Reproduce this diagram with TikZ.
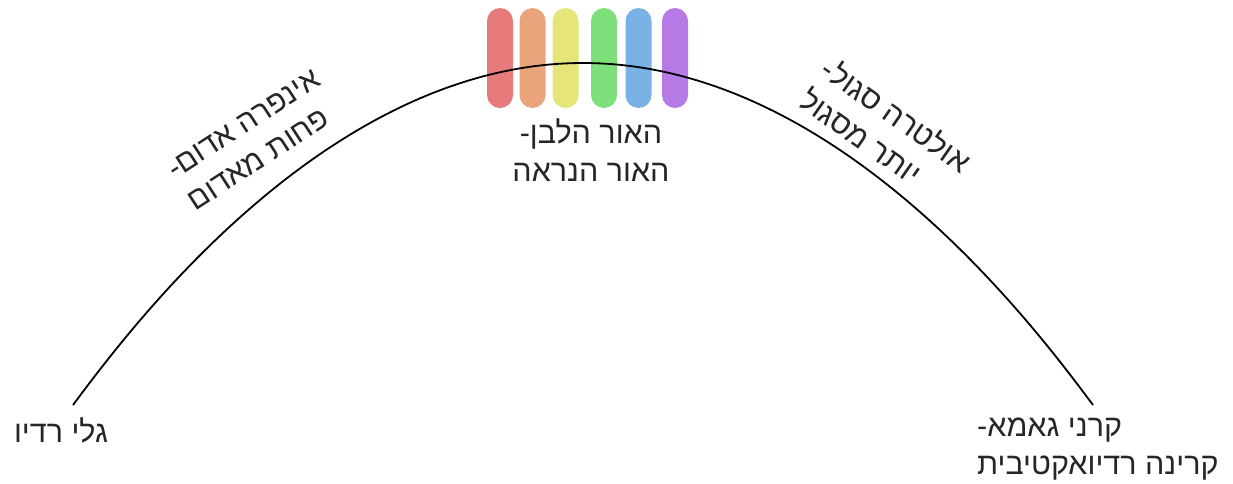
\documentclass[tikz,border=0pt]{standalone}
\usepackage{fontspec}
\TeXXeTstate=1
\newfontfamily\hebfont[Script=Hebrew]{Liberation Sans}
\definecolor{bred}{HTML}{E77A7A}
\definecolor{borange}{HTML}{E9A47C}
\definecolor{byellow}{HTML}{E6E57A}
\definecolor{bgreen}{HTML}{7EE07A}
\definecolor{bblue}{HTML}{7BB2E6}
\definecolor{bpurple}{HTML}{B57AE6}
\definecolor{txt}{HTML}{262626}
\begin{document}
\begin{tikzpicture}[x=1pt,y=1pt,
  bar/.style={draw=none, minimum width=26pt, minimum height=100pt, inner sep=0pt, rounded corners=13pt},
  lbl/.style={font=\hebfont\fontsize{30.5}{38}\selectfont, text=txt, inner sep=0pt, align=left},
  curve/.style={line width=1.8pt, black}]
\useasboundingbox (0,0) rectangle (1233,-483);
\node[bar, fill=bred]    (b1) at (500,-58)   {};
\node[bar, fill=borange] (b2) at (532.5,-58) {};
\node[bar, fill=byellow] (b3) at (565.5,-58) {};
\node[bar, fill=bgreen]  (b4) at (604,-58)   {};
\node[bar, fill=bblue]   (b5) at (638.5,-58) {};
\node[bar, fill=bpurple] (b6) at (675,-58)   {};
\coordinate (L) at (73,-405);
\coordinate (P) at (583,-63);
\coordinate (R) at (1093,-405);
\draw[curve] (L) parabola bend (P) (R);
\node[lbl] (radio) at (61,-430) {\beginR גלי רדיו\endR};
\node[lbl, anchor=west] (gamma) at (977,-449) {\beginR קרני גאמא-\endR\\\beginR קרינה רדיואקטיבית\endR};
\node[lbl, align=center] (vis) at (591,-150) {\beginR האור הלבן-\endR\\\beginR האור הנראה\endR};
\node[lbl, rotate=33] (ir) at (254,-140) {\beginR אינפרה אדום-\endR\\\beginR פחות מאדום\endR};
\node[lbl, rotate=-35] (uv) at (886,-130) {\beginR אולטרה סגול-\endR\\\beginR יותר מסגול\endR};
\end{tikzpicture}
\end{document}
